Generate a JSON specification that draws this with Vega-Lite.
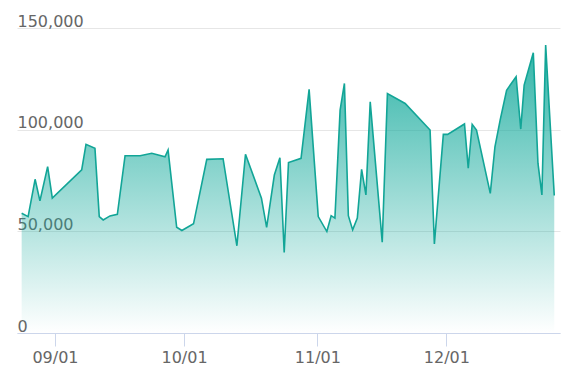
{
  "$schema": "https://vega.github.io/schema/vega-lite/v6.json",
  "width": 543,
  "height": 305,
  "autosize": {"type": "none"},
  "padding": {"left": 17, "top": 28, "right": 18, "bottom": 51},
  "background": "white",
  "config": {"view": {"stroke": null}},
  "data": {
    "values": [
      {"date": "2023/08/24 06:00", "value": 58900},
      {"date": "2023/08/25 18:00", "value": 57250},
      {"date": "2023/08/27 09:00", "value": 75600},
      {"date": "2023/08/28 12:00", "value": 64950},
      {"date": "2023/08/30 07:00", "value": 81800},
      {"date": "2023/08/31 09:00", "value": 66300},
      {"date": "2023/09/07 05:00", "value": 80200},
      {"date": "2023/09/08 05:00", "value": 92800},
      {"date": "2023/09/10 07:00", "value": 90800},
      {"date": "2023/09/11 07:00", "value": 57250},
      {"date": "2023/09/12 05:00", "value": 55600},
      {"date": "2023/09/13 19:00", "value": 57600},
      {"date": "2023/09/15 12:00", "value": 58400},
      {"date": "2023/09/17 07:00", "value": 87200},
      {"date": "2023/09/20 19:00", "value": 87200},
      {"date": "2023/09/23 12:00", "value": 88400},
      {"date": "2023/09/26 14:00", "value": 86700},
      {"date": "2023/09/27 07:00", "value": 90000},
      {"date": "2023/09/29 07:00", "value": 52000},
      {"date": "2023/09/30 12:00", "value": 50400},
      {"date": "2023/10/03 05:00", "value": 53700},
      {"date": "2023/10/06 07:00", "value": 85400},
      {"date": "2023/10/10 02:00", "value": 85700},
      {"date": "2023/10/13 07:00", "value": 42900},
      {"date": "2023/10/15 07:00", "value": 87900},
      {"date": "2023/10/19 00:00", "value": 66300},
      {"date": "2023/10/20 05:00", "value": 51900},
      {"date": "2023/10/22 00:00", "value": 77700},
      {"date": "2023/10/23 07:00", "value": 86200},
      {"date": "2023/10/24 07:00", "value": 39600},
      {"date": "2023/10/25 07:00", "value": 83800},
      {"date": "2023/10/28 05:00", "value": 85900},
      {"date": "2023/10/30 02:00", "value": 119800},
      {"date": "2023/11/01 05:00", "value": 57250},
      {"date": "2023/11/03 05:00", "value": 49900},
      {"date": "2023/11/04 05:00", "value": 57700},
      {"date": "2023/11/05 02:00", "value": 56500},
      {"date": "2023/11/06 07:00", "value": 109600},
      {"date": "2023/11/07 07:00", "value": 122750},
      {"date": "2023/11/08 05:00", "value": 57700},
      {"date": "2023/11/09 05:00", "value": 50700},
      {"date": "2023/11/10 07:00", "value": 56500},
      {"date": "2023/11/11 07:00", "value": 80500},
      {"date": "2023/11/12 07:00", "value": 67900},
      {"date": "2023/11/13 07:00", "value": 113700},
      {"date": "2023/11/16 02:00", "value": 44700},
      {"date": "2023/11/17 07:00", "value": 117800},
      {"date": "2023/11/21 10:00", "value": 112900},
      {"date": "2023/11/27 05:00", "value": 99800},
      {"date": "2023/11/28 05:00", "value": 43800},
      {"date": "2023/11/30 07:00", "value": 97700},
      {"date": "2023/12/01 07:00", "value": 97700},
      {"date": "2023/12/05 05:00", "value": 102800},
      {"date": "2023/12/06 02:00", "value": 81000},
      {"date": "2023/12/07 00:00", "value": 102600},
      {"date": "2023/12/08 00:00", "value": 99800},
      {"date": "2023/12/11 05:00", "value": 68700},
      {"date": "2023/12/12 07:00", "value": 91600},
      {"date": "2023/12/13 12:00", "value": 104700},
      {"date": "2023/12/15 00:00", "value": 119400},
      {"date": "2023/12/17 05:00", "value": 126000},
      {"date": "2023/12/18 07:00", "value": 100300},
      {"date": "2023/12/19 02:00", "value": 121900},
      {"date": "2023/12/21 05:00", "value": 137800},
      {"date": "2023/12/22 07:00", "value": 83500},
      {"date": "2023/12/23 05:00", "value": 67900},
      {"date": "2023/12/24 02:00", "value": 141600},
      {"date": "2023/12/26 02:00", "value": 67600}
    ]
  },
  "encoding": {
    "x": {
      "field": "date",
      "type": "temporal",
      "scale": {
        "domain": [
          {"year": 2023, "month": 8, "date": 23, "hours": 4},
          {"year": 2023, "month": 12, "date": 27, "hours": 10}
        ]
      },
      "axis": {
        "title": null,
        "format": "%m/%d",
        "values": [
          {"year": 2023, "month": 9, "date": 1},
          {"year": 2023, "month": 10, "date": 1},
          {"year": 2023, "month": 11, "date": 1},
          {"year": 2023, "month": 12, "date": 1}
        ],
        "grid": false,
        "domainColor": "#ccd6eb",
        "domainWidth": 1,
        "tickColor": "#ccd6eb",
        "tickSize": 13,
        "tickWidth": 1,
        "labelPadding": 3,
        "labelFont": "DejaVu Sans",
        "labelFontSize": 16,
        "labelColor": "#666666"
      }
    },
    "y": {
      "field": "value",
      "type": "quantitative",
      "scale": {"domain": [0, 150000], "nice": false},
      "axis": {
        "title": null,
        "values": [0, 50000, 100000, 150000],
        "format": ",d",
        "grid": true,
        "gridColor": "#e6e6e6",
        "gridWidth": 1,
        "domain": false,
        "ticks": false,
        "tickSize": 0,
        "labelPadding": 0,
        "labelAlign": "left",
        "labelBaseline": "alphabetic",
        "labelOffset": -2,
        "labelFont": "DejaVu Sans",
        "labelFontSize": 16,
        "labelColor": "#666666"
      }
    }
  },
  "layer": [
    {
      "mark": {
        "type": "area",
        "color": {
          "gradient": "linear",
          "x1": 0, "y1": 0, "x2": 0, "y2": 1,
          "stops": [
            {"offset": 0, "color": "rgba(20,170,156,0.88)"},
            {"offset": 1, "color": "rgba(20,170,156,0)"}
          ]
        }
      }
    },
    {
      "mark": {"type": "line", "color": "#12a597", "strokeWidth": 1.6}
    }
  ]
}
